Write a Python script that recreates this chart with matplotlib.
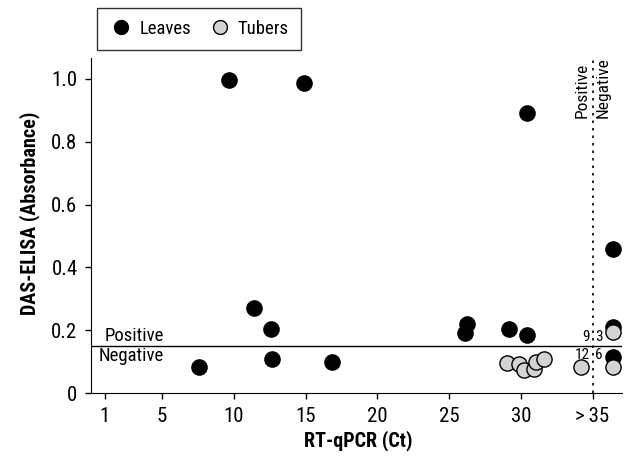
import matplotlib
matplotlib.use("Agg")
import matplotlib.pyplot as plt
from matplotlib import font_manager
from matplotlib.lines import Line2D

# pick a condensed face if one is installed
names = {f.name for f in font_manager.fontManager.ttflist}
for fam in ["Roboto Condensed", "Liberation Sans Narrow", "Open Sans Condensed", "DejaVu Sans Condensed", "Liberation Sans"]:
    if fam in names:
        plt.rcParams["font.family"] = [fam, "DejaVu Sans"]
        break

leaves_ct = [7.58, 9.69, 11.41, 12.58, 12.65, 14.9, 16.85, 26.12, 26.24, 29.2,
             30.43, 30.43, 36.42, 36.42, 36.42]
leaves_abs = [0.082, 0.995, 0.27, 0.203, 0.107, 0.988, 0.099, 0.19, 0.22, 0.203,
              0.185, 0.893, 0.458, 0.209, 0.116]
tubers_ct = [29.07, 29.9, 30.19, 30.89, 31.08, 31.59, 34.2, 36.42, 36.42]
tubers_abs = [0.097, 0.092, 0.075, 0.078, 0.1, 0.107, 0.084, 0.194, 0.084]

x_ticks = [1, 5, 10, 15, 20, 25, 30, 35]
x_labels = ["1", "5", "10", "15", "20", "25", "30", ">\u200935"]
y_ticks = [0, 0.2, 0.4, 0.6, 0.8, 1.0]
y_labels = ["0", "0.2", "0.4", "0.6", "0.8", "1.0"]
cutoff = 0.15
ct_cutoff = 35

fig = plt.figure(figsize=(6.26, 4.63), dpi=100)
ax = fig.add_axes([0.146, 0.151, 0.848, 0.724])

ax.scatter(leaves_ct, leaves_abs, s=120, c="black", edgecolors="black", linewidths=1, zorder=3, clip_on=False)
ax.scatter(tubers_ct, tubers_abs, s=120, c="#d3d3d3", edgecolors="black", linewidths=1, zorder=4, clip_on=False)

ax.axhline(cutoff, color="black", lw=1)
ax.plot([ct_cutoff, ct_cutoff], [0, 1.07], ls=(0, (1.5, 3)), color="black", lw=1.2, clip_on=False)

ax.text(1.0, cutoff + 0.004, "Positive", fontsize=13.5, va="bottom", ha="left")
ax.text(0.6, cutoff - 0.004, "Negative", fontsize=13.5, va="top", ha="left")
ax.text(ct_cutoff - 0.7, 0.875, "Positive", fontsize=12.5, rotation=90, va="bottom", ha="center")
ax.text(ct_cutoff + 0.75, 0.875, "Negative", fontsize=12.5, rotation=90, va="bottom", ha="center")

ax.text(ct_cutoff - 0.2, cutoff + 0.005, "9", fontsize=11, ha="right", va="bottom")
ax.text(ct_cutoff + 0.2, cutoff + 0.005, "3", fontsize=11, ha="left", va="bottom")
ax.text(ct_cutoff - 0.2, cutoff - 0.005, "12", fontsize=11, ha="right", va="top")
ax.text(ct_cutoff + 0.2, cutoff - 0.005, "6", fontsize=11, ha="left", va="top")

ax.set_xlim(0.08, 37.07)
ax.set_ylim(0, 1.067)
ax.set_xticks(x_ticks)
ax.set_xticklabels(x_labels, fontsize=15)
ax.set_yticks(y_ticks)
ax.set_yticklabels(y_labels, fontsize=15)
ax.tick_params(length=4.5, width=1, pad=5.5)
ax.spines["top"].set_visible(False)
ax.spines["right"].set_visible(False)
ax.set_xlabel("RT-qPCR (Ct)", fontsize=14.5, fontweight="bold")
ax.set_ylabel("DAS-ELISA (Absorbance)", fontsize=14.5, fontweight="bold")
ax.xaxis.set_label_coords(0.502, -0.143)
ax.yaxis.set_label_coords(-0.116, 0.537)
ax.xaxis.label.set_va("center")
ax.yaxis.label.set_va("center")

handles = [
    Line2D([], [], ls="none", marker="o", ms=10, mfc="black", mec="black", label="Leaves"),
    Line2D([], [], ls="none", marker="o", ms=10, mfc="#d3d3d3", mec="black", label="Tubers"),
]
leg = fig.legend(handles=handles, loc="upper left", bbox_to_anchor=(0.155, 0.983), ncol=2,
                 fontsize=13.5, frameon=True, fancybox=False, edgecolor="black",
                 handletextpad=0.3, columnspacing=0.9, borderpad=0.65, handlelength=1.3,
                 borderaxespad=0)
leg.get_frame().set_linewidth(1)

fig.savefig("out.png", dpi=100)
